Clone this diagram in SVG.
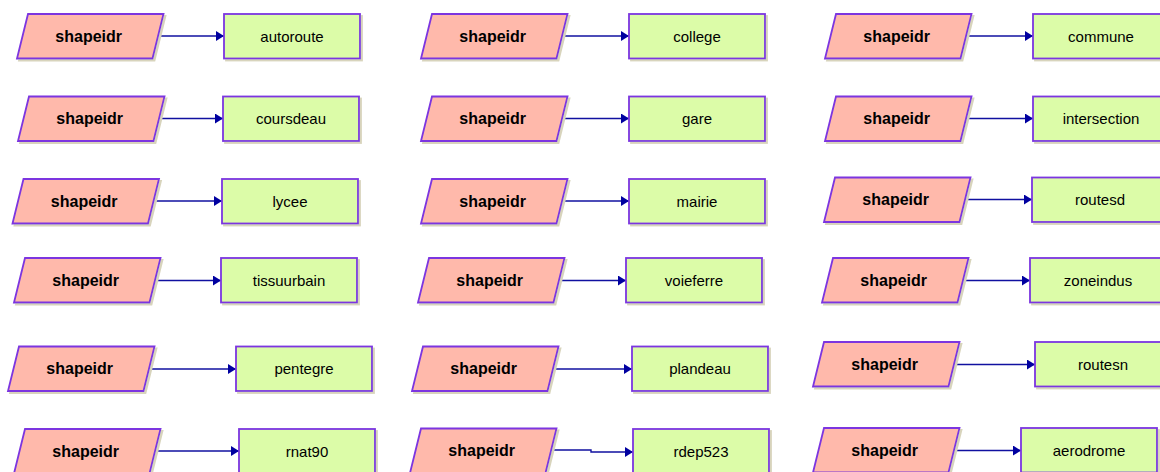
<svg xmlns="http://www.w3.org/2000/svg" width="1160" height="472" viewBox="0 0 1160 472">
<style>
.p{fill:#ffb9ab;stroke:#7b35e0;stroke-width:1.8;filter:url(#sh)}
.r{fill:#dcfca8;stroke:#7b35e0;stroke-width:1.8;filter:url(#sh)}
.ps{font-family:"Liberation Sans",Arial,sans-serif;font-weight:bold;font-size:16px;text-anchor:middle;fill:#000}
.rs{font-family:"Liberation Sans",Arial,sans-serif;font-size:15px;text-anchor:middle;fill:#000}
.c path{fill:none;stroke:#1010a0;stroke-width:1.4;marker-end:url(#ah)}
</style>
<defs>
<filter id="sh" x="-5%" y="-5%" width="115%" height="130%">
<feFlood flood-color="#d8d4bc"/>
<feComposite in2="SourceAlpha" operator="in"/>
<feOffset dx="2" dy="2"/>
<feMerge><feMergeNode/><feMergeNode in="SourceGraphic"/></feMerge>
</filter>
<marker id="ah" markerUnits="userSpaceOnUse" viewBox="0 0 8 10" refX="8" refY="5" markerWidth="8" markerHeight="10" orient="auto">
<path d="M0,0 L8,5 L0,10 Z" fill="#0000a0"/>
</marker>
</defs>
<rect width="1160" height="472" fill="#ffffff"/>
<g class="c" id="connectors">
<path d="M158,36 H224"/>
<path d="M159,118.5 H223"/>
<path d="M153.5,201 H222"/>
<path d="M155,280.5 H221"/>
<path d="M149,369 H236"/>
<path d="M155,451 H239"/>
<path d="M562,36 H629"/>
<path d="M562,118.5 H629"/>
<path d="M562,201 H629"/>
<path d="M559,280.5 H626"/>
<path d="M553,369 H632"/>
<path d="M551,450 H591 V452 H633"/>
<path d="M966,36 H1033"/>
<path d="M966,118.5 H1033"/>
<path d="M965,199.5 H1032"/>
<path d="M963,280.5 H1030"/>
<path d="M954,364.5 H1035"/>
<path d="M954,450.5 H1021"/>
</g>
<g id="s1"><polygon class="p" points="28,14 163.5,14 152.5,58.5 17,58.5"/><text class="ps" x="88.7" y="41.5">shapeidr</text></g>
<g id="t1"><rect class="r" x="224" y="14" width="136" height="44.5"/><text class="rs" x="292" y="41.5">autoroute</text></g>
<g id="s2"><polygon class="p" points="29,96.5 164.5,96.5 153.5,141 18,141"/><text class="ps" x="89.7" y="124">shapeidr</text></g>
<g id="t2"><rect class="r" x="223" y="96.5" width="136" height="44.5"/><text class="rs" x="291" y="124">coursdeau</text></g>
<g id="s3"><polygon class="p" points="23.5,179 159,179 148,223.5 12.5,223.5"/><text class="ps" x="84.2" y="206.5">shapeidr</text></g>
<g id="t3"><rect class="r" x="222" y="179" width="136" height="44.5"/><text class="rs" x="290" y="206.5">lycee</text></g>
<g id="s4"><polygon class="p" points="25,258 160.5,258 149.5,302.5 14,302.5"/><text class="ps" x="85.7" y="285.5">shapeidr</text></g>
<g id="t4"><rect class="r" x="221" y="258" width="136" height="44.5"/><text class="rs" x="289" y="285.5">tissuurbain</text></g>
<g id="s5"><polygon class="p" points="19,346.5 154.5,346.5 143.5,391 8,391"/><text class="ps" x="79.7" y="374">shapeidr</text></g>
<g id="t5"><rect class="r" x="236" y="346.5" width="136" height="44.5"/><text class="rs" x="304" y="374">pentegre</text></g>
<g id="s6"><polygon class="p" points="25,429 160.5,429 149.5,473.5 14,473.5"/><text class="ps" x="85.7" y="456.5">shapeidr</text></g>
<g id="t6"><rect class="r" x="239" y="429" width="136" height="44.5"/><text class="rs" x="307" y="456.5">rnat90</text></g>
<g id="s7"><polygon class="p" points="432,14 567.5,14 556.5,58.5 421,58.5"/><text class="ps" x="492.7" y="41.5">shapeidr</text></g>
<g id="t7"><rect class="r" x="629" y="14" width="136" height="44.5"/><text class="rs" x="697" y="41.5">college</text></g>
<g id="s8"><polygon class="p" points="432,96.5 567.5,96.5 556.5,141 421,141"/><text class="ps" x="492.7" y="124">shapeidr</text></g>
<g id="t8"><rect class="r" x="629" y="96.5" width="136" height="44.5"/><text class="rs" x="697" y="124">gare</text></g>
<g id="s9"><polygon class="p" points="432,179 567.5,179 556.5,223.5 421,223.5"/><text class="ps" x="492.7" y="206.5">shapeidr</text></g>
<g id="t9"><rect class="r" x="629" y="179" width="136" height="44.5"/><text class="rs" x="697" y="206.5">mairie</text></g>
<g id="s10"><polygon class="p" points="429,258 564.5,258 553.5,302.5 418,302.5"/><text class="ps" x="489.7" y="285.5">shapeidr</text></g>
<g id="t10"><rect class="r" x="626" y="258" width="136" height="44.5"/><text class="rs" x="694" y="285.5">voieferre</text></g>
<g id="s11"><polygon class="p" points="423,346.5 558.5,346.5 547.5,391 412,391"/><text class="ps" x="483.7" y="374">shapeidr</text></g>
<g id="t11"><rect class="r" x="632" y="346.5" width="136" height="44.5"/><text class="rs" x="700" y="374">plandeau</text></g>
<g id="s12"><polygon class="p" points="421,428.5 556.5,428.5 545.5,473 410,473"/><text class="ps" x="481.7" y="456">shapeidr</text></g>
<g id="t12"><rect class="r" x="633" y="429" width="136" height="44.5"/><text class="rs" x="701" y="456.5">rdep523</text></g>
<g id="s13"><polygon class="p" points="836,14 971.5,14 960.5,58.5 825,58.5"/><text class="ps" x="896.7" y="41.5">shapeidr</text></g>
<g id="t13"><rect class="r" x="1033" y="14" width="136" height="44.5"/><text class="rs" x="1101" y="41.5">commune</text></g>
<g id="s14"><polygon class="p" points="836,96.5 971.5,96.5 960.5,141 825,141"/><text class="ps" x="896.7" y="124">shapeidr</text></g>
<g id="t14"><rect class="r" x="1033" y="96.5" width="136" height="44.5"/><text class="rs" x="1101" y="124">intersection</text></g>
<g id="s15"><polygon class="p" points="835,177.5 970.5,177.5 959.5,222 824,222"/><text class="ps" x="895.7" y="205">shapeidr</text></g>
<g id="t15"><rect class="r" x="1032" y="177.5" width="136" height="44.5"/><text class="rs" x="1100" y="205">routesd</text></g>
<g id="s16"><polygon class="p" points="833,258 968.5,258 957.5,302.5 822,302.5"/><text class="ps" x="893.7" y="285.5">shapeidr</text></g>
<g id="t16"><rect class="r" x="1030" y="258" width="136" height="44.5"/><text class="rs" x="1098" y="285.5">zoneindus</text></g>
<g id="s17"><polygon class="p" points="824,342 959.5,342 948.5,386.5 813,386.5"/><text class="ps" x="884.7" y="369.5">shapeidr</text></g>
<g id="t17"><rect class="r" x="1035" y="342" width="136" height="44.5"/><text class="rs" x="1103" y="369.5">routesn</text></g>
<g id="s18"><polygon class="p" points="824,428 959.5,428 948.5,472.5 813,472.5"/><text class="ps" x="884.7" y="455.5">shapeidr</text></g>
<g id="t18"><rect class="r" x="1021" y="428" width="136" height="44.5"/><text class="rs" x="1089" y="455.5">aerodrome</text></g>
</svg>
